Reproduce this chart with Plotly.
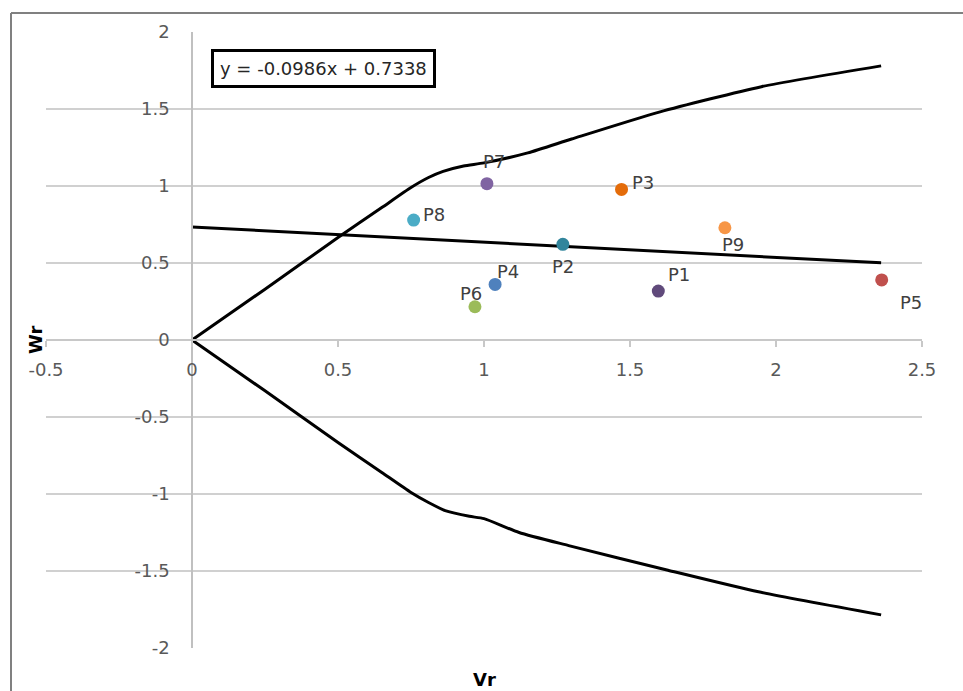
import plotly.graph_objects as go

# ---------------- data ----------------
point_names = ["P1", "P2", "P3", "P4", "P5", "P6", "P7", "P8", "P9"]
vr_values = [1.597, 1.270, 1.471, 1.038, 2.362, 0.969, 1.010, 0.759, 1.825]
wr_values = [0.318, 0.621, 0.978, 0.361, 0.390, 0.216, 1.015, 0.779, 0.729]
point_colors = ["#604a7b", "#31859c", "#e46c0a", "#4f81bd", "#c0504d",
                "#9bbb59", "#8064a2", "#4bacc6", "#f79646"]

upper_x = [0, 0.25, 0.5, 0.65, 0.75, 0.81, 0.86, 0.93, 1.0, 1.15, 1.30, 1.60, 1.95, 2.36]
upper_y = [0, 0.33, 0.665, 0.86, 0.99, 1.055, 1.095, 1.13, 1.15, 1.215, 1.305, 1.48, 1.645, 1.78]
lower_x = [0, 0.25, 0.5, 0.65, 0.75, 0.81, 0.87, 0.95, 1.0, 1.12, 1.29, 1.63, 1.94, 2.36]
lower_y = [0, -0.33, -0.665, -0.86, -0.99, -1.055, -1.11, -1.145, -1.16, -1.25, -1.335,
           -1.495, -1.635, -1.785]

trend_x = [0, 2.36]
trend_y = [0.7338, 0.5011]
trend_label = "y = -0.0986x + 0.7338"

x_tickvals = [-0.5, 0, 0.5, 1, 1.5, 2, 2.5]
x_ticktext = ["-0.5", "0", "0.5", "1", "1.5", "2", "2.5"]
y_tickvals = [-2, -1.5, -1, -0.5, 0, 0.5, 1, 1.5, 2]
y_ticktext = ["-2", "-1.5", "-1", "-0.5", "0", "0.5", "1", "1.5", "2"]

# label offsets (pixels) for the point labels
label_offsets = {
    "P1": (21, 17), "P2": (0, -22), "P3": (21, 7), "P4": (13, 13),
    "P5": (29, -23), "P6": (-4, 13), "P7": (7, 22), "P8": (20, 6), "P9": (8, -17),
}

FONT = "DejaVu Sans"
W, H = 963, 691
ML, MR, MT, MB = 46, 41, 32, 43

fig = go.Figure()

line_style = dict(color="black", width=3, shape="spline", smoothing=0.6)
fig.add_trace(go.Scatter(x=upper_x, y=upper_y, mode="lines", line=line_style,
                         hoverinfo="skip", showlegend=False))
fig.add_trace(go.Scatter(x=lower_x, y=lower_y, mode="lines", line=line_style,
                         hoverinfo="skip", showlegend=False))
fig.add_trace(go.Scatter(x=trend_x, y=trend_y, mode="lines",
                         line=dict(color="black", width=3),
                         hoverinfo="skip", showlegend=False))
fig.add_trace(go.Scatter(x=vr_values, y=wr_values, mode="markers",
                         marker=dict(color=point_colors, size=13),
                         text=point_names, showlegend=False))

annotations = []
for name, xv, yv in zip(point_names, vr_values, wr_values):
    dx, dy = label_offsets[name]
    annotations.append(dict(x=xv, y=yv, xref="x", yref="y", text=name,
                            showarrow=False, xshift=dx, yshift=dy,
                            font=dict(family=FONT, size=18, color="#404040")))

# trendline equation box
annotations.append(dict(x=0.449, y=1.766, xref="x", yref="y", text=trend_label,
                        showarrow=False, xanchor="center", yanchor="middle",
                        bordercolor="black", borderwidth=3, borderpad=6,
                        bgcolor="white",
                        font=dict(family=FONT, size=18, color="#262626")))

# axis titles
pw = W - ML - MR
ph = H - MB - MT
annotations.append(dict(x=(35 - ML) / pw, y=0.5, xref="paper", yref="paper",
                        text="<b>Wr</b>", textangle=-90, showarrow=False,
                        xanchor="center", yanchor="middle",
                        font=dict(family=FONT, size=18, color="black")))
annotations.append(dict(x=0.5, y=(H - MB - 679) / ph, xref="paper", yref="paper",
                        text="<b>Vr</b>", showarrow=False,
                        xanchor="center", yanchor="middle",
                        font=dict(family=FONT, size=18, color="black")))


def px_x(p):
    return (p - ML) / pw


def px_y(p):
    return (H - MB - p) / ph


# outer frame (chart border, partially cropped)
shapes = [
    dict(type="line", xref="paper", yref="paper", x0=px_x(11), x1=px_x(963),
         y0=px_y(13), y1=px_y(13), line=dict(color="#808080", width=2)),
    dict(type="line", xref="paper", yref="paper", x0=px_x(11), x1=px_x(11),
         y0=px_y(13), y1=px_y(691), line=dict(color="#808080", width=2)),
]

fig.update_layout(
    width=W, height=H,
    margin=dict(l=ML, r=MR, t=MT, b=MB, pad=0),
    paper_bgcolor="white", plot_bgcolor="white",
    annotations=annotations, shapes=shapes,
    xaxis=dict(range=[-0.5, 2.5], domain=[0, 1], anchor="free", position=0.5,
               showgrid=False, zeroline=False, showline=True,
               linecolor="#c8c8c8", linewidth=1.5,
               ticks="outside", ticklen=6, tickcolor="#c8c8c8", tickwidth=1.5,
               tickvals=x_tickvals, ticktext=x_ticktext,
               ticklabelstandoff=8,
               tickfont=dict(family=FONT, size=18, color="#595959")),
    yaxis=dict(range=[-2, 2], domain=[0, 1], anchor="free", position=1 / 6,
               showgrid=True, gridcolor="#d0d0d0", gridwidth=1.5,
               zeroline=False, showline=True,
               linecolor="#c0c0c0", linewidth=1.5, ticks="",
               tickvals=y_tickvals, ticktext=y_ticktext,
               ticklabelstandoff=18,
               tickfont=dict(family=FONT, size=18, color="#595959")),
)

fig.write_html("out.html")
